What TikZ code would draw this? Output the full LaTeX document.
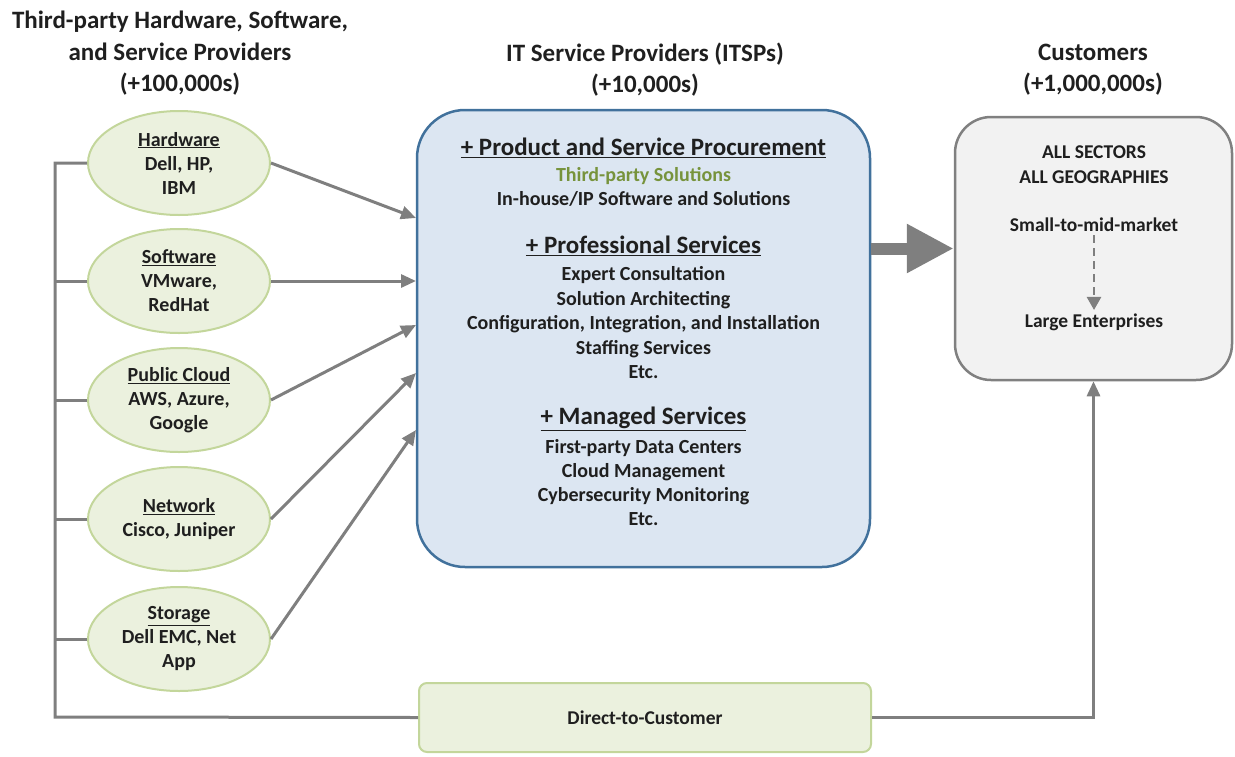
\documentclass[tikz,border=0pt]{standalone}
\usepackage{fontspec}
\setmainfont{Carlito}
\usetikzlibrary{shapes.geometric,arrows.meta}

\definecolor{vendorfill}{HTML}{EBF1DE}
\definecolor{vendorline}{HTML}{C3D69B}
\definecolor{itspfill}{HTML}{DCE6F2}
\definecolor{itspline}{HTML}{41719C}
\definecolor{custfill}{HTML}{F2F2F2}
\definecolor{custline}{HTML}{808080}
\definecolor{flow}{HTML}{7F7F7F}
\definecolor{txt}{HTML}{1F1F1F}
\definecolor{olive}{HTML}{77933C}

\newcommand{\fs}[2]{\bfseries\fontsize{#1}{#2}\selectfont}

\begin{document}
\begin{tikzpicture}[x=1pt,y=-1pt,
    vendor/.style={ellipse, draw=vendorline, fill=vendorfill, line width=2pt,
      minimum width=182pt, minimum height=104pt, inner sep=0pt, align=center,
      text=txt, font=\fs{20}{24}},
    title/.style={align=center, text=txt, font=\fs{25}{31.5}},
    head/.style={text=txt, font=\fs{25}{28}},
    item/.style={align=center, text=txt, font=\fs{20}{24.5}},
    feed/.style={draw=flow, line width=3pt, -{Triangle[length=15pt,width=13pt]}},
    bus/.style={draw=flow, line width=3pt}]
  \useasboundingbox (0,0) rectangle (1235,756);

  % column titles
  \node[title] (ttlvendor) at (180,53.5) {Third-party Hardware, Software,\\and Service Providers\\(+100,000s)};
  \node[title] (ttlitsp) at (645,69.5) {IT Service Providers (ITSPs)\\(+10,000s)};
  \node[title] (ttlcust) at (1093,69.5) {Customers\\(+1,000,000s)};

  % vendors
  \node[vendor] (hw) at (179,163) {\underline{Hardware}\\Dell, HP,\\IBM};
  \node[vendor] (sw) at (179,281) {\underline{Software}\\VMware,\\RedHat};
  \node[vendor] (cloud) at (179,400) {\underline{Public Cloud}\\AWS, Azure,\\Google};
  \node[vendor] (net) at (179,519) {\underline{Network}\\Cisco, Juniper};
  \node[vendor] (stor) at (179,639) {\underline{Storage}\\Dell EMC, Net\\App};

  % ITSP box
  \node[draw=itspline, fill=itspfill, line width=2.5pt, rounded corners=48pt,
    minimum width=453pt, minimum height=457pt] (itsp) at (643.5,338.5) {};
  \node[head] (proc) at (643.5,148) {\underline{+ Product and Service Procurement}};
  \node[item] (procitems) at (643.5,187) {\textcolor{olive}{Third-party Solutions}\\In-house/IP Software and Solutions};
  \node[head] (prof) at (643.5,246) {\underline{+ Professional Services}};
  \node[item] (profitems) at (643.5,323) {Expert Consultation\\Solution Architecting\\Configuration, Integration, and Installation\\Staffing Services\\Etc.};
  \node[head] (mgd) at (643.5,419) {\underline{+ Managed Services}};
  \node[item, font=\fs{20}{23.7}] (mgditems) at (643.5,482.5) {First-party Data Centers\\Cloud Management\\Cybersecurity Monitoring\\Etc.};

  % customers box
  \node[draw=custline, fill=custfill, line width=2.5pt, rounded corners=36pt,
    minimum width=277pt, minimum height=263pt] (cust) at (1093.5,248.5) {};
  \node[item, font=\fs{19.5}{25}] (sectors) at (1094,164.5) {ALL SECTORS\\ALL GEOGRAPHIES};
  \node[item, font=\fs{19.5}{20}] (small) at (1094,225) {Small-to-mid-market};
  \node[item, font=\fs{19.5}{20}] (large) at (1094,322) {Large Enterprises};
  \draw[draw=flow, line width=2.5pt, dashed, dash pattern=on 8pt off 5pt,
    -{Triangle[length=13pt,width=14pt]}] (small.south) -- (large.north);

  % flows into the ITSPs
  \coordinate (inhw) at (416,218);
  \coordinate (insw) at (416,281);
  \coordinate (incloud) at (416,325);
  \coordinate (innet) at (416,373);
  \coordinate (instor) at (416,430);
  \draw[feed] (hw.east) -- (inhw);
  \draw[feed] (sw.east) -- (insw);
  \draw[feed] (cloud.east) -- (incloud);
  \draw[feed] (net.east) -- (innet);
  \draw[feed] (stor.east) -- (instor);

  % ITSPs to customers
  \draw[draw=flow, line width=12pt, -{Triangle[length=47pt,width=46pt]}]
    (itsp.east |- cust.west) -- (cust.west);

  % direct route
  \coordinate (bustop) at (55,163);
  \coordinate (busbot) at (55,717);
  \node[draw=vendorline, fill=vendorfill, line width=2pt, rounded corners=8pt,
    minimum width=452pt, minimum height=69pt, text=txt, font=\fs{19.5}{20}]
    (direct) at (645,717.5) {Direct-to-Customer};
  \draw[bus] (hw.west) -- (bustop) -- (busbot) -- (direct.west);
  \draw[bus] (sw.west) -- (sw.west -| bustop);
  \draw[bus] (cloud.west) -- (cloud.west -| bustop);
  \draw[bus] (net.west) -- (net.west -| bustop);
  \draw[bus] (stor.west) -- (stor.west -| bustop);
  \draw[feed] (direct.east) -| (cust.south);
\end{tikzpicture}
\end{document}
